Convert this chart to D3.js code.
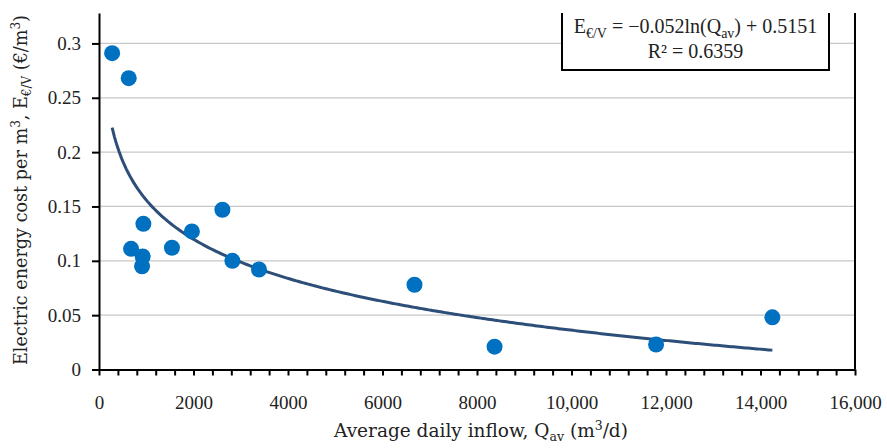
<!DOCTYPE html>
<html>
<head>
<meta charset="utf-8">
<script src="https://cdn.jsdelivr.net/npm/d3@7"></script>
<style>
    body { margin: 0; background: #fff; }
    svg { display: block; font-family: 'Liberation Serif', serif; }
    .tick text { font-family: 'Liberation Serif', serif; font-size: 19px; fill: #222; }
    .axis-title { font-family: 'DejaVu Serif', serif; font-size: 18.5px; fill: #222; }
    .y-title { font-size: 17.6px; }
    .eq-text { font-size: 20px; fill: #222; }
</style>
</head>
<body>
<svg id="chart" width="887" height="448"></svg>
<script>
// values
const inflow = [278, 629, 939, 679, 924, 911, 1544, 1966, 2612, 2823, 3386, 6677, 8372, 11790, 14251]
const cost = [0.291, 0.268, 0.134, 0.111, 0.104, 0.095, 0.112, 0.127, 0.147, 0.100, 0.092, 0.078, 0.021, 0.023, 0.048]
const xTicks = [0, 2000, 4000, 6000, 8000, 10000, 12000, 14000, 16000]
const yTicks = [0, 0.05, 0.1, 0.15, 0.2, 0.25, 0.3]
// log trendline shown in the box
const trendA = -0.052
const trendB = 0.5151

const DIMENSIONS = {
    width: 887,
    height: 448,
    margin_top: 13,
    margin_bottom: 78.5,
    margin_left: 99,
    margin_right: 32
}
DIMENSIONS.drawable_width = DIMENSIONS.width - DIMENSIONS.margin_left - DIMENSIONS.margin_right
DIMENSIONS.drawable_height = DIMENSIONS.height - DIMENSIONS.margin_top - DIMENSIONS.margin_bottom

const svg = d3.select('#chart')
const g = svg.append('g')
    .attr('transform', `translate(${DIMENSIONS.margin_left}, ${DIMENSIONS.margin_top})`)

const x = d3.scaleLinear()
    .domain([0, 16000])
    .range([0, DIMENSIONS.drawable_width])
// the plot top sits a bit above 0.3
const y = d3.scaleLinear()
    .domain([0, 0.328])
    .range([DIMENSIONS.drawable_height, 0])

// gridlines
g.append('g')
    .selectAll('line')
    .data(yTicks.filter(d => d > 0))
    .join('line')
    .attr('x1', 0)
    .attr('x2', DIMENSIONS.drawable_width)
    .attr('y1', d => y(d))
    .attr('y2', d => y(d))
    .attr('stroke', '#c8c8c8')
    .attr('stroke-width', 1.2)

// right border of the plot
g.append('line')
    .attr('x1', DIMENSIONS.drawable_width)
    .attr('x2', DIMENSIONS.drawable_width)
    .attr('y1', 0)
    .attr('y2', DIMENSIONS.drawable_height)
    .attr('stroke', '#000')
    .attr('stroke-width', 2)

const fmtX = d => d >= 10000 ? d3.format(',')(d) : String(d)
const xAxis = d3.axisBottom(x)
    .tickValues(d3.range(0, 16001, 400))
    .tickSize(6)
    .tickSizeOuter(0)
    .tickFormat(d => xTicks.includes(d) ? fmtX(d) : '')
const xAxisG = g.append('g')
    .attr('class', 'x-axis')
    .attr('transform', `translate(0, ${DIMENSIONS.drawable_height})`)
    .call(xAxis)
xAxisG.selectAll('.tick text').attr('dy', '1.6em')

const yAxis = d3.axisLeft(y)
    .tickValues(yTicks)
    .tickSize(7)
    .tickSizeOuter(0)
    .tickPadding(11)
    .tickFormat(d => String(+d.toFixed(2)))
const yAxisG = g.append('g')
    .attr('class', 'y-axis')
    .call(yAxis)

svg.selectAll('.domain, .tick line').attr('stroke', '#000').attr('stroke-width', 2)

// trendline
const trendX = d3.range(d3.min(inflow), d3.max(inflow), 50).concat([d3.max(inflow)])
const trend = d3.line()
    .x(d => x(d))
    .y(d => y(trendA * Math.log(d) + trendB))
g.append('path')
    .datum(trendX)
    .attr('d', trend)
    .attr('fill', 'none')
    .attr('stroke', '#2c4e78')
    .attr('stroke-width', 3)

// points
g.selectAll('.dot')
    .data(inflow.map((d, i) => ({ q: d, e: cost[i] })))
    .join('circle')
    .attr('class', 'dot')
    .attr('cx', d => x(d.q))
    .attr('cy', d => y(d.e))
    .attr('r', 8)
    .attr('fill', '#0070c0')

// equation box
const box = { x0: 562, x1: 829, y0: 13, y1: 70 }
svg.append('rect')
    .attr('x', box.x0)
    .attr('y', box.y0)
    .attr('width', box.x1 - box.x0)
    .attr('height', box.y1 - box.y0)
    .attr('fill', '#fff')
svg.append('path')
    .attr('d', `M${box.x0},${box.y0}V${box.y1}H${box.x1}V${box.y0}`)
    .attr('fill', 'none')
    .attr('stroke', '#000')
    .attr('stroke-width', 2)

const eq1 = svg.append('text')
    .attr('class', 'eq-text')
    .attr('x', (box.x0 + box.x1) / 2)
    .attr('y', 33)
    .attr('text-anchor', 'middle')
eq1.append('tspan').text('E')
eq1.append('tspan').attr('font-size', '14px').attr('dy', 5).text('€/V')
eq1.append('tspan').attr('dy', -5).text(' = −0.052ln(Q')
eq1.append('tspan').attr('font-size', '14px').attr('dy', 5).text('av')
eq1.append('tspan').attr('dy', -5).text(') + 0.5151')

svg.append('text')
    .attr('class', 'eq-text')
    .attr('x', (box.x0 + box.x1) / 2)
    .attr('y', 58)
    .attr('text-anchor', 'middle')
    .text('R² = 0.6359')

// axis titles
const xTitle = svg.append('text')
    .attr('class', 'axis-title')
    .attr('x', 481)
    .attr('y', 437)
    .attr('text-anchor', 'middle')
xTitle.append('tspan').text('Average daily inflow, Q')
xTitle.append('tspan').attr('font-size', '12.5px').attr('dy', 4).text('av')
xTitle.append('tspan').attr('dy', -4).text(' (m')
xTitle.append('tspan').attr('font-size', '12.5px').attr('dy', -7).text('3')
xTitle.append('tspan').attr('dy', 7).text('/d)')

const yTitle = svg.append('text')
    .attr('class', 'axis-title y-title')
    .attr('transform', 'translate(27, 365) rotate(-90)')
    .attr('text-anchor', 'start')
yTitle.append('tspan').text('Electric energy cost per m')
yTitle.append('tspan').attr('font-size', '12px').attr('dy', -7).text('3')
yTitle.append('tspan').attr('dy', 7).text(', E')
yTitle.append('tspan').attr('font-size', '12px').attr('dy', 4).text('€/V')
yTitle.append('tspan').attr('dy', -4).text(' (€/m')
yTitle.append('tspan').attr('font-size', '12px').attr('dy', -7).text('3')
yTitle.append('tspan').attr('dy', 7).text(')')
</script>
</body>
</html>
